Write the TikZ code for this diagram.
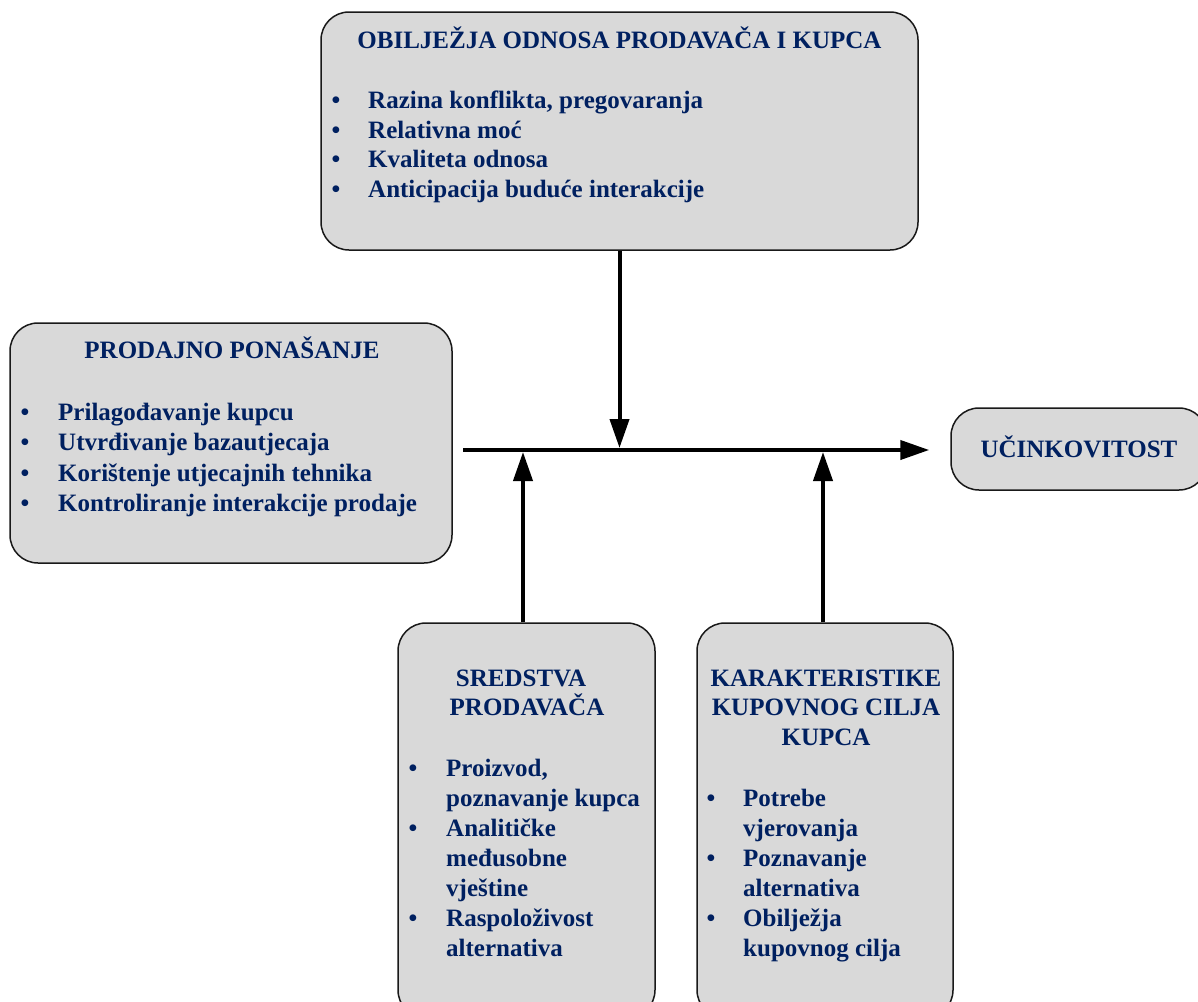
\documentclass[tikz,border=0pt]{standalone}
\usepackage{fontspec}
\setmainfont{Liberation Serif}
\usetikzlibrary{arrows.meta}
\definecolor{navy}{RGB}{0,32,96}
\definecolor{boxgray}{RGB}{217,217,217}
\definecolor{edgegray}{RGB}{25,25,25}
\begin{document}
\begin{tikzpicture}[x=1pt,y=-1pt,
  box/.style={draw=edgegray,line width=1.5pt,fill=boxgray,rounded corners=28pt,inner sep=0pt},
  txt/.style={text=navy,font=\fontsize{25}{30}\selectfont\bfseries,inner sep=0pt},
  item/.style={txt,anchor=base west},
  ttl/.style={txt,anchor=base},
  bul/.style={txt,anchor=base},
  flow/.style={line width=4pt,-{Triangle[length=29pt,width=19pt]}}]
\path[use as bounding box] (0,0) rectangle (1198,1001);
\clip (0,0) rectangle (1198,1001);

% boxes
\node[box,minimum width=597pt,minimum height=238pt] (obiljezja) at (619.5,131) {};
\node[box,minimum width=442pt,minimum height=240pt] (ponasanje) at (231,443) {};
\node[box,minimum width=256pt,minimum height=82pt] (ucinak) at (1079,449) {};
\node[box,minimum width=257pt,minimum height=395pt] (sredstva) at (526.5,820.5) {};
\node[box,minimum width=256pt,minimum height=395pt] (karakt) at (825,820.5) {};

% top box text
\node[ttl] (t1) at (619.5,48) {OBILJEŽJA ODNOSA PRODAVAČA I KUPCA};
\node[bul] (b11) at (336,108.5) {•};
\node[bul] (b12) at (336,138) {•};
\node[bul] (b13) at (336,167.5) {•};
\node[bul] (b14) at (336,197) {•};
\node[item] (i11) at (368,108.5) {Razina konflikta, pregovaranja};
\node[item] (i12) at (368,138) {Relativna moć};
\node[item] (i13) at (368,167.5) {Kvaliteta odnosa};
\node[item] (i14) at (368,197) {Anticipacija buduće interakcije};

% left box text
\node[ttl] (t2) at (232,358) {PRODAJNO PONAŠANJE};
\node[bul] (b21) at (25,420) {•};
\node[bul] (b22) at (25,450.5) {•};
\node[bul] (b23) at (25,481) {•};
\node[bul] (b24) at (25,511.5) {•};
\node[item] (i21) at (58,420) {Prilagođavanje kupcu};
\node[item] (i22) at (58,450.5) {Utvrđivanje bazautjecaja};
\node[item] (i23) at (58,481) {Korištenje utjecajnih tehnika};
\node[item] (i24) at (58,511.5) {Kontroliranje interakcije prodaje};

% right box text
\node[ttl] (t3) at (1079,457) {UČINKOVITOST};

% bottom left box text
\node[ttl] (t4a) at (521,686) {SREDSTVA};
\node[ttl] (t4b) at (527,715.5) {PRODAVAČA};
\node[bul] (b41) at (413,776.5) {•};
\node[bul] (b42) at (413,836.5) {•};
\node[bul] (b43) at (413,926.5) {•};
\node[item] (i41a) at (446,776.5) {Proizvod,};
\node[item] (i41b) at (446,806.5) {poznavanje kupca};
\node[item] (i42a) at (446,836.5) {Analitičke};
\node[item] (i42b) at (446,866.5) {međusobne};
\node[item] (i42c) at (446,896.5) {vještine};
\node[item] (i43a) at (446,926.5) {Raspoloživost};
\node[item] (i43b) at (446,956.5) {alternativa};

% bottom right box text
\node[ttl] (t5a) at (826,686) {KARAKTERISTIKE};
\node[ttl] (t5b) at (826,715.5) {KUPOVNOG CILJA};
\node[ttl] (t5c) at (826,745) {KUPCA};
\node[bul] (b51) at (711,806.5) {•};
\node[bul] (b52) at (711,866.5) {•};
\node[bul] (b53) at (711,926.5) {•};
\node[item] (i51a) at (743,806.5) {Potrebe};
\node[item] (i51b) at (743,836.5) {vjerovanja};
\node[item] (i52a) at (743,866.5) {Poznavanje};
\node[item] (i52b) at (743,896.5) {alternativa};
\node[item] (i53a) at (743,926.5) {Obilježja};
\node[item] (i53b) at (743,956.5) {kupovnog cilja};

% connectors
\coordinate (hstart) at (463,450);
\coordinate (jdown) at (619.5,448);
\coordinate (jup1) at (523,452);
\coordinate (jup2) at (823,452);
\draw[flow,shorten >=21pt] (hstart) -- (ucinak.west |- hstart);
\draw[flow] (obiljezja.south) -- (jdown);
\draw[flow] (sredstva.north -| jup1) -- (jup1);
\draw[flow] (karakt.north -| jup2) -- (jup2);
\end{tikzpicture}
\end{document}
